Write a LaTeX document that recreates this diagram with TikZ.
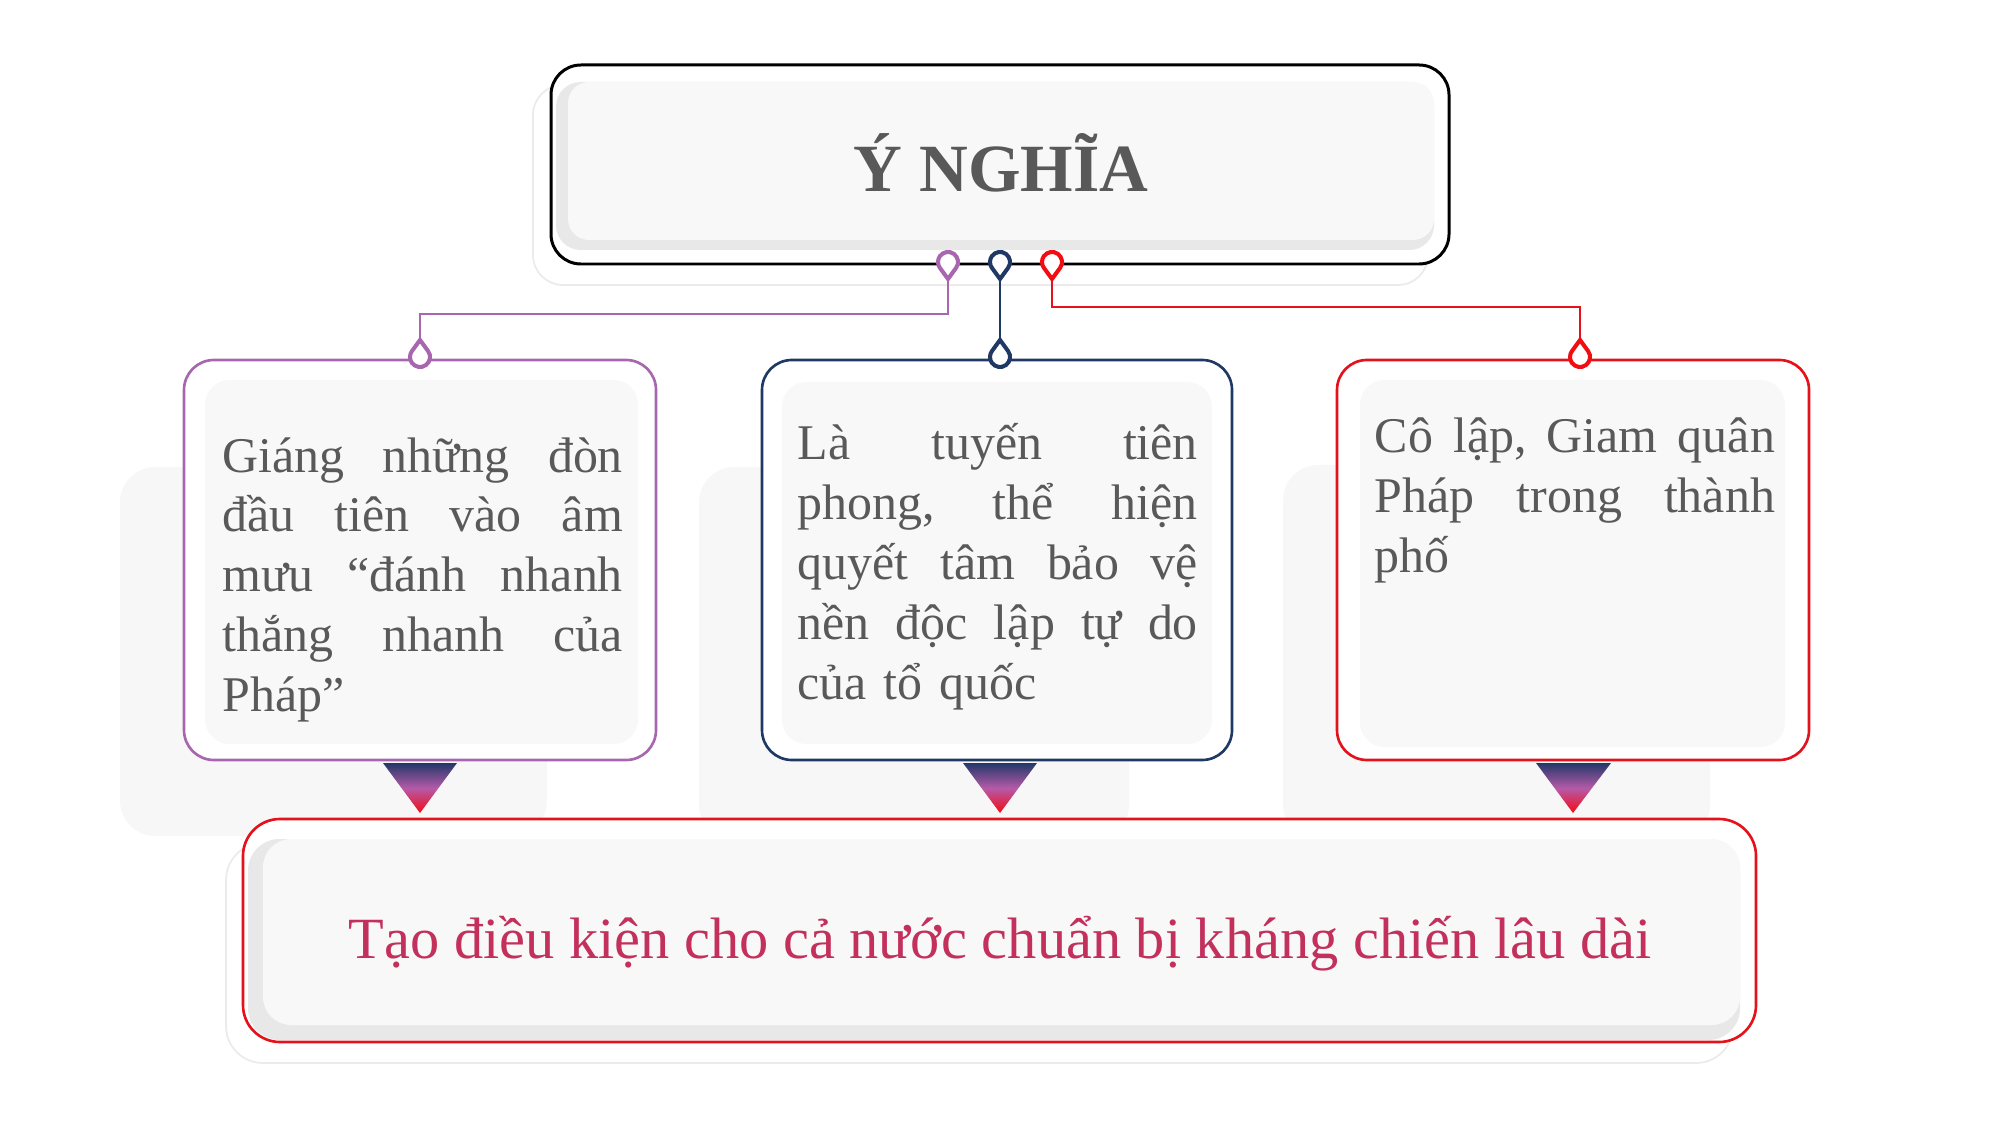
\documentclass[tikz,border=0pt]{standalone}
\usepackage{fontspec}
\setmainfont{Liberation Serif}

\definecolor{mauTim}{HTML}{A866AE}
\definecolor{mauXanh}{HTML}{1F3864}
\definecolor{mauDo}{HTML}{E3121B}
\definecolor{ghimDo}{HTML}{F20D12}
\definecolor{chuXam}{HTML}{595959}
\definecolor{chuDo}{HTML}{C3305C}
\definecolor{nenXam}{HTML}{F8F8F8}
\definecolor{bongXam}{HTML}{E8E8E8}
\definecolor{vienMo}{HTML}{EBEBEB}
\definecolor{bongMo}{HTML}{F7F7F7}
\definecolor{tgXanh}{HTML}{22386A}
\definecolor{tgTim}{HTML}{B55AA8}
\definecolor{tgDo}{HTML}{F50A14}

\newcommand{\dong}[1]{\makebox[4cm][s]{#1}}

\tikzset{
  hop/.style={line width=0.75pt, fill=white, rounded corners=8.5pt},
  noidung/.style={font=\fontsize{14.2}{17}\selectfont, text=chuXam, align=left, inner sep=0pt, text width=4cm, anchor=base west},
  noi/.style={line width=0.65pt},
  ghim xuong/.pic={\filldraw[fill=white, line width=1.15pt] (0,17) -- (36:10) arc[start angle=36, end angle=-216, radius=10] -- cycle;},
  ghim len/.pic={\filldraw[fill=white, line width=1.15pt] (0,-17) -- (-36:10) arc[start angle=-36, end angle=216, radius=10] -- cycle;},
}

\begin{document}
\begin{tikzpicture}[x=0.01cm, y=-0.01cm]

    \useasboundingbox (0,0) rectangle (2001,1125);

    % 绘制三个框后面的浅色阴影
    \fill[bongMo, rounded corners=10pt] (120,467) rectangle (547,836); % 左框阴影
    \fill[bongMo, rounded corners=10pt] (699,467) rectangle (1129,840); % 中框阴影
    \fill[bongMo, rounded corners=10pt] (1283,465) rectangle (1710,840); % 右框阴影

    % 绘制标题框
    \filldraw[draw=vienMo, fill=white, line width=0.5pt, rounded corners=8.5pt] (533,85) rectangle (1428,285); % 外面的淡边
    \filldraw[hop, draw=black, line width=0.85pt] (551,65) rectangle (1449,264); % 黑色边框
    \fill[bongXam, rounded corners=7pt] (556,82) rectangle (1434,250); % 灰色底边
    \fill[nenXam, rounded corners=6pt] (568,82) rectangle (1434,240); % 浅灰底色

    % 绘制中间三个框
    \filldraw[hop, draw=mauTim] (184,360) rectangle (656,760); % 左框
    \fill[nenXam, rounded corners=7pt] (205,380) rectangle (638,744);
    \filldraw[hop, draw=mauXanh] (762,360) rectangle (1232,760); % 中框
    \fill[nenXam, rounded corners=7pt] (782,382) rectangle (1212,744);
    \filldraw[hop, draw=mauDo] (1337,360) rectangle (1809,760); % 右框
    \fill[nenXam, rounded corners=7pt] (1360,380) rectangle (1785,747);

    % 绘制底部结论框
    \filldraw[draw=vienMo, fill=white, line width=0.5pt, rounded corners=10.5pt] (226,843) rectangle (1733,1063); % 外面的淡边
    \filldraw[hop, draw=mauDo, rounded corners=10.5pt] (243,819) rectangle (1756,1042); % 红色边框
    \fill[bongXam, rounded corners=9pt] (248,839) rectangle (1740,1040); % 灰色底边
    \fill[nenXam, rounded corners=8pt] (263,839) rectangle (1740,1025); % 浅灰底色

    % 绘制渐变三角形
    \shade[top color=tgXanh, bottom color=tgDo, middle color=tgTim] (383,763) -- (457,763) -- (420,813) -- cycle; % 左
    \shade[top color=tgXanh, bottom color=tgDo, middle color=tgTim] (963,763) -- (1037,763) -- (1000,813) -- cycle; % 中
    \shade[top color=tgXanh, bottom color=tgDo, middle color=tgTim] (1536,763) -- (1611,763) -- (1573,813) -- cycle; % 右

    % 连接线的端点
    \coordinate (dauTim) at (948,279);
    \coordinate (dauXanh) at (1000,279);
    \coordinate (dauDo) at (1052,279);
    \coordinate (cuoiTim) at (420,340);
    \coordinate (cuoiXanh) at (1000,340);
    \coordinate (cuoiDo) at (1580,340);

    % 绘制连接线
    \draw[noi, mauTim] (dauTim) -- ++(0,35) -| (cuoiTim); % 到左框
    \draw[noi, mauXanh] (dauXanh) -- (cuoiXanh); % 到中框
    \draw[noi, mauDo] (dauDo) -- ++(0,28) -| (cuoiDo); % 到右框

    % 绘制圆形标记
    \pic[mauTim] at (948,262) {ghim xuong};
    \pic[mauXanh] at (1000,262) {ghim xuong};
    \pic[ghimDo] at (1052,262) {ghim xuong};
    \pic[mauTim] at (420,357) {ghim len};
    \pic[mauXanh] at (1000,357) {ghim len};
    \pic[ghimDo] at (1580,357) {ghim len};

    % 文字
    \node[font=\fontsize{19.2}{23}\selectfont\bfseries, text=chuXam, anchor=base] (tieuDe) at (1001,192) {Ý NGHĨA};
    \node[noidung] (yTrai) at (222,472) {\dong{Giáng\hfill những\hfill đòn}\\\dong{đầu\hfill tiên\hfill vào\hfill âm}\\\dong{mưu\hfill “đánh\hfill nhanh}\\\dong{thắng\hfill nhanh\hfill của}\\Pháp”};
    \node[noidung] (yGiua) at (797,460) {\dong{Là\hfill tuyến\hfill tiên}\\\dong{phong,\hfill thể\hfill hiện}\\\dong{quyết\hfill tâm\hfill bảo\hfill vệ}\\\dong{nền\hfill độc\hfill lập\hfill tự\hfill do}\\của tổ quốc};
    \node[noidung] (yPhai) at (1374,453) {\dong{Cô\hfill lập,\hfill Giam\hfill quân}\\\dong{Pháp\hfill trong\hfill thành}\\phố};
    \node[font=\fontsize{16.6}{20}\selectfont, text=chuDo, anchor=base] (ketLuan) at (1000,958) {Tạo điều kiện cho cả nước chuẩn bị kháng chiến lâu dài};

\end{tikzpicture}
\end{document}
